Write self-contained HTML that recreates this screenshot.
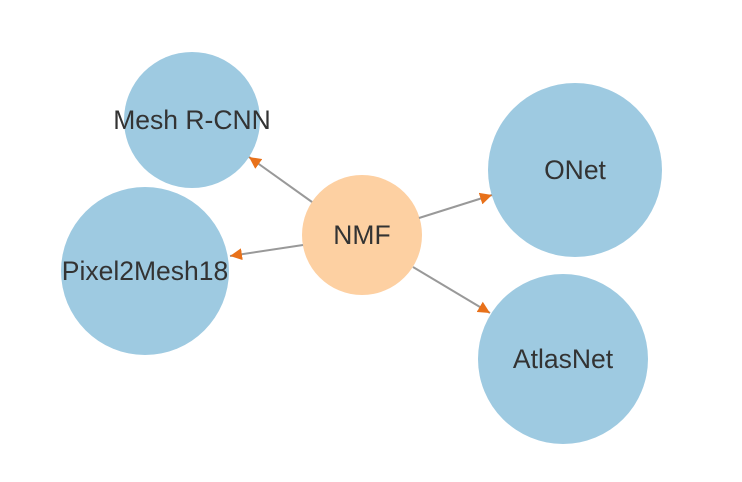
<!DOCTYPE html>
<html><head><style>body{margin:0;background:#fff}svg{display:block}</style></head><body>
<svg width="742" height="482" xmlns="http://www.w3.org/2000/svg" font-family="Liberation Sans, sans-serif">
<defs><marker id="a" viewBox="0 0 10 10" refX="10" refY="5" markerWidth="12" markerHeight="12" markerUnits="userSpaceOnUse" orient="auto"><path d="M0,0L10,5L0,10z" fill="#e8711a"/></marker></defs>
<circle cx="192" cy="120" r="68" fill="#9ecae1"/>
<circle cx="145" cy="271" r="84" fill="#9ecae1"/>
<circle cx="575" cy="170" r="87" fill="#9ecae1"/>
<circle cx="563" cy="359" r="85" fill="#9ecae1"/>
<circle cx="362" cy="235" r="60" fill="#fdd0a2"/>
<g stroke="#999" stroke-width="2" marker-end="url(#a)">
<line x1="312" y1="202" x2="249" y2="157"/>
<line x1="303" y1="245" x2="230" y2="256"/>
<line x1="419" y1="218" x2="492" y2="195"/>
<line x1="413" y1="267" x2="490" y2="313"/>
</g>
<g fill="#333" font-size="26.5" text-anchor="middle">
<text x="192" y="129">Mesh R-CNN</text>
<text x="145" y="280">Pixel2Mesh18</text>
<text x="362" y="244">NMF</text>
<text x="575" y="179">ONet</text>
<text x="563" y="368">AtlasNet</text>
</g>
</svg>
</body></html>
